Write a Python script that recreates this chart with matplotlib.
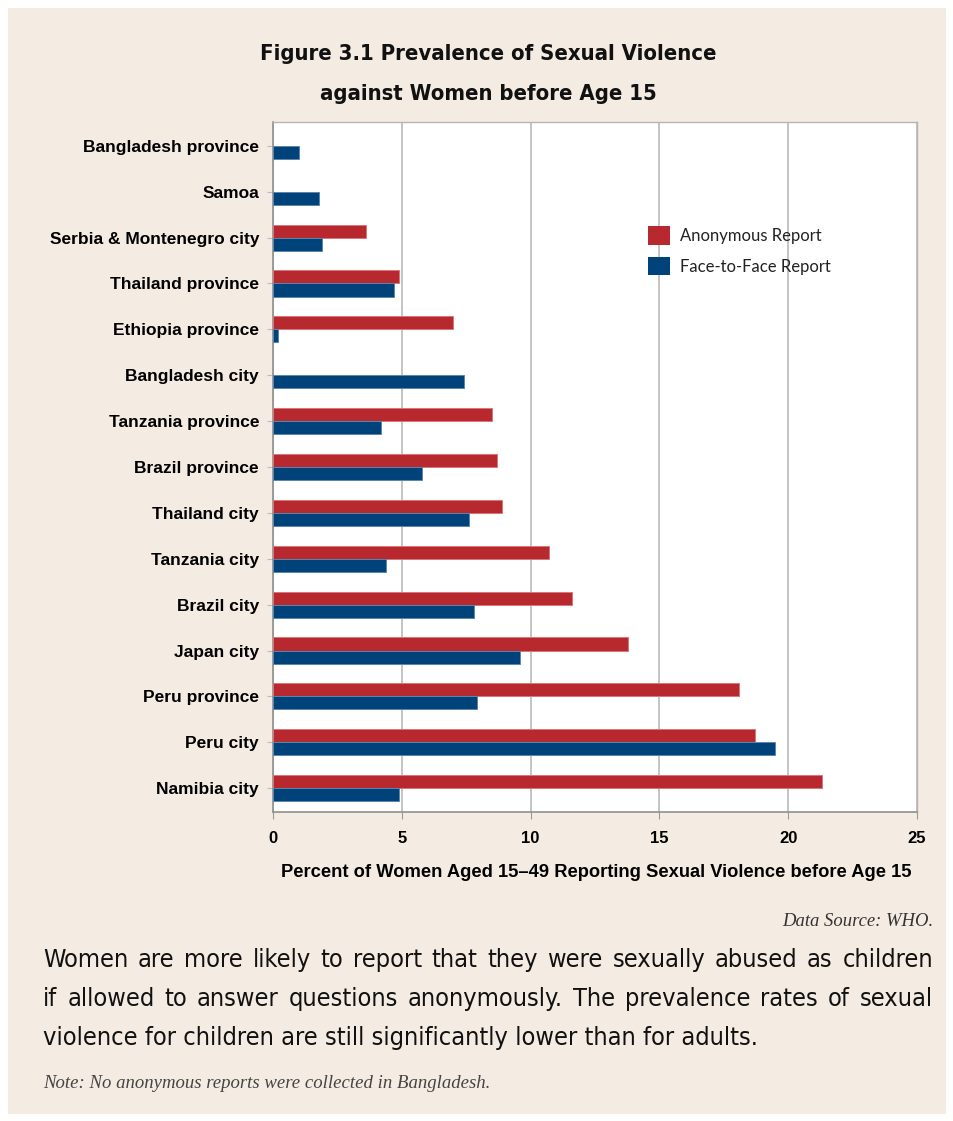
import numpy as np
import matplotlib
matplotlib.use("Agg")
import matplotlib.pyplot as plt
from matplotlib.patches import Rectangle, Patch

# data (top to bottom)
places = ["Bangladesh province", "Samoa", "Serbia & Montenegro city", "Thailand province",
          "Ethiopia province", "Bangladesh city", "Tanzania province", "Brazil province",
          "Thailand city", "Tanzania city", "Brazil city", "Japan city", "Peru province",
          "Peru city", "Namibia city"]
anonymous = [np.nan, np.nan, 3.6, 4.9, 7.0, np.nan, 8.5, 8.7, 8.9, 10.7, 11.6, 13.8, 18.1, 18.7, 21.3]
face_to_face = [1.0, 1.8, 1.9, 4.7, 0.2, 7.4, 4.2, 5.8, 7.6, 4.4, 7.8, 9.6, 7.9, 19.5, 4.9]
x_ticks = [0, 5, 10, 15, 20, 25]

title_lines = ["Figure 3.1 Prevalence of Sexual Violence", "against Women before Age 15"]
x_label = "Percent of Women Aged 15\u201349 Reporting Sexual Violence before Age 15"
source = "Data Source: WHO."
para = ["Women are more likely to report that they were sexually abused as children",
        "if allowed to answer questions anonymously. The prevalence rates of sexual",
        "violence for children are still significantly lower than for adults."]
note = "Note: No anonymous reports were collected in Bangladesh."

RED = "#B7292F"
BLUE = "#00427A"
BEIGE = "#F4EBE2"

W, H = 954, 1121
fig = plt.figure(figsize=(W / 100, H / 100), dpi=100)
fig.patch.set_facecolor("white")
fig.patches.append(Rectangle((8 / W, 1 - 1114 / H), 938 / W, 1106 / H,
                             transform=fig.transFigure, facecolor=BEIGE, edgecolor="none", zorder=-10))


def fx(px):
    return px / W


def fy(py):
    return 1 - py / H


# title
for i, line in enumerate(title_lines):
    fig.text(fx(488), fy(54 + i * 40), line, ha="center", va="center", fontsize=15.8,
             fontweight="bold", family="DejaVu Sans", fontstretch="condensed", color="#111111")

ax = fig.add_axes([fx(273), fy(812), (917 - 273) / W, (812 - 122) / H])
ax.set_facecolor("white")

y = np.arange(len(places))
h = 0.285
ax.barh(y - h / 2, anonymous, height=h, color=RED, edgecolor="#D9767A", linewidth=0.7,
        label="Anonymous Report", zorder=3)
ax.barh(y + h / 2, face_to_face, height=h, color=BLUE, edgecolor="#5B86AE", linewidth=0.7,
        label="Face-to-Face Report", zorder=3)

ax.set_xlim(0, 25)
ax.set_ylim(len(places) - 0.48, -0.52)
ax.set_xticks(x_ticks)
ax.set_xticklabels([str(t) for t in x_ticks], fontsize=12, fontweight="bold",
                   family="Liberation Sans")
ax.set_yticks(y)
ax.set_yticklabels(places, fontsize=12.5, fontweight="bold", family="Liberation Sans")
ax.tick_params(axis="x", length=5, color="#999999", pad=9)
ax.tick_params(axis="y", length=4, color="#bbbbbb", pad=6)
ax.xaxis.grid(True, color="#c4c4c4", linewidth=1.4, zorder=0)
ax.set_axisbelow(True)
for s in ["left", "bottom"]:
    ax.spines[s].set_color("#8f8f8f")
    ax.spines[s].set_linewidth(1.2)
for s in ["top", "right"]:
    ax.spines[s].set_color("#b5b5b5")
    ax.spines[s].set_linewidth(1.0)

ax.set_xlabel(x_label, fontsize=13.2, fontweight="bold", family="Liberation Sans")
ax.xaxis.set_label_coords((596 - 273) / (917 - 273), -(864 - 812) / (812 - 122))

handles = [Patch(facecolor=RED), Patch(facecolor=BLUE)]
ax.legend(handles, ["Anonymous Report", "Face-to-Face Report"], loc="upper left",
          bbox_to_anchor=((640 - 273) / (917 - 273), 1 - (218 - 122) / (812 - 122)),
          frameon=False, prop={"family": "Lato", "size": 12}, handlelength=1.3, handleheight=1.3,
          handletextpad=0.6, labelspacing=0.75, borderpad=0, labelcolor="#222222")

fig.text(fx(933), fy(921), source, ha="right", va="center", fontsize=13.4, style="italic",
         family="Liberation Serif", color="#333333")

# justified paragraph
renderer = fig.canvas.get_renderer()
pfont = dict(fontsize=18.2, family="DejaVu Sans", fontstretch="condensed", color="#111111")
left, right = 43, 933
for i, line in enumerate(para):
    ypos = fy(960 + i * 39)
    words = line.split()
    if i == len(para) - 1:
        fig.text(fx(left), ypos, line, ha="left", va="center", **pfont)
        continue
    texts = [fig.text(0, ypos, w, ha="left", va="center", **pfont) for w in words]
    widths = [t.get_window_extent(renderer).width for t in texts]
    gap = (right - left - sum(widths)) / (len(words) - 1)
    xpos = left
    for t, wd in zip(texts, widths):
        t.set_x(fx(xpos))
        xpos += wd + gap

fig.text(fx(43), fy(1083), note, ha="left", va="center", fontsize=13.5, style="italic",
         family="Liberation Serif", color="#444444")

fig.savefig("out.png", dpi=100, facecolor=fig.get_facecolor())
